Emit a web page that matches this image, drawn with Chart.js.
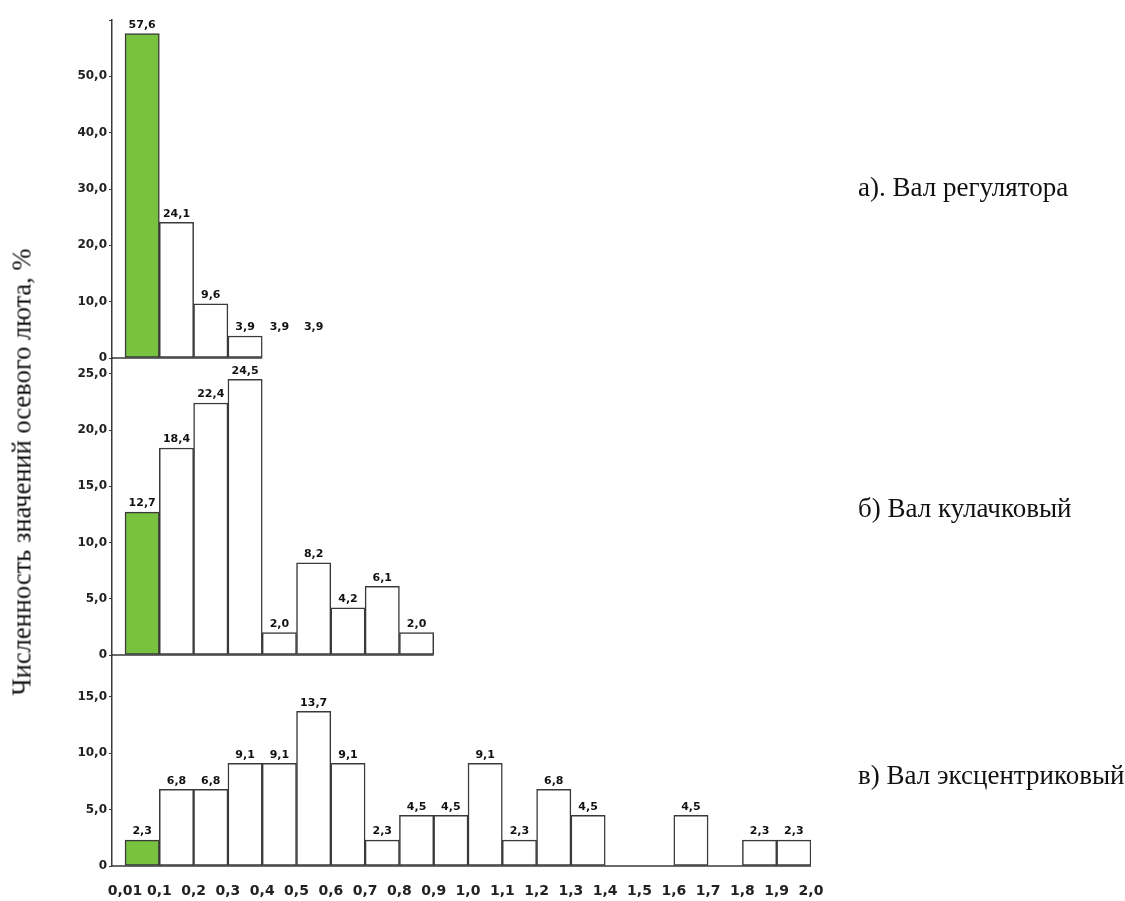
<!DOCTYPE html>
<html lang="ru">
<head>
<meta charset="utf-8">
<title>Осевой люфт валов</title>
<script src="https://cdn.jsdelivr.net/npm/chart.js@4.4.1/dist/chart.umd.min.js"></script>
<style>
  html, body { margin: 0; padding: 0; background: #fff; }
  #wrap { position: relative; width: 1125px; height: 901px; overflow: hidden; }
  #chart { position: absolute; left: 0; top: 0; }
  .ytitle {
    position: absolute; left: 22px; top: 472px;
    transform: translate(-50%, -50%) rotate(-90deg);
    font: 26.5px "Liberation Serif", "Times New Roman", serif;
    white-space: nowrap; color: #111;
  }
  .panel-name {
    position: absolute; left: 858px;
    font: 27px/27px "Liberation Serif", "Times New Roman", serif;
    white-space: nowrap; color: #111;
  }
</style>
</head>
<body>
<div id="wrap">
  <canvas id="chart" width="1125" height="901"></canvas>
  <div class="ytitle">Численность значений осевого люта, %</div>
  <div class="panel-name" id="name-a" style="top:174px"></div>
  <div class="panel-name" id="name-b" style="top:495px"></div>
  <div class="panel-name" id="name-c" style="top:762px"></div>
</div>
<script>
// bin edges, mm
const binEdges = ['0,01', '0,1', '0,2', '0,3', '0,4', '0,5', '0,6', '0,7', '0,8', '0,9', '1,0',
                  '1,1', '1,2', '1,3', '1,4', '1,5', '1,6', '1,7', '1,8', '1,9', '2,0'];

const panelNames = ['а). Вал регулятора', 'б) Вал кулачковый', 'в) Вал эксцентриковый'];

// share of values per bin, %
const regulatorShaft = [57.6, 24.1, 9.6, 3.9, 3.9, 3.9];
const labelOnlyBins = [4, 5]; // the source prints these two values without a bar
const camShaft = [12.7, 18.4, 22.4, 24.5, 2.0, 8.2, 4.2, 6.1, 2.0];
const eccentricShaft = [2.3, 6.8, 6.8, 9.1, 9.1, 13.7, 9.1, 2.3, 4.5, 4.5,
                        9.1, 2.3, 6.8, 4.5, null, null, 4.5, null, 2.3, 2.3];

const ticksA = [0, 10, 20, 30, 40, 50, 60];
const ticksB = [0, 5, 10, 15, 20, 25];
const ticksC = [0, 5, 10, 15];

const GREEN = '#78c23f';
const EDGE = '#3a3a3a';

document.getElementById('name-a').textContent = panelNames[0];
document.getElementById('name-b').textContent = panelNames[1];
document.getElementById('name-c').textContent = panelNames[2];

const toPoints = arr => arr.map((v, i) => ({ x: i + 0.5, y: v }));
const fmt = v => v === 0 ? '0' : v.toFixed(1).replace('.', ',');

function barDataset(name, values, axisId, hidden) {
  hidden = hidden || [];
  return {
    label: name,
    data: toPoints(values),
    yAxisID: axisId,
    hiddenBars: hidden,
    grouped: false,
    barPercentage: 1,
    categoryPercentage: 1,
    borderWidth: 1.5,
    borderSkipped: false,
    backgroundColor: c => hidden.includes(c.dataIndex) ? 'rgba(0,0,0,0)' : (c.dataIndex === 0 ? GREEN : '#fff'),
    borderColor: c => hidden.includes(c.dataIndex) ? 'rgba(0,0,0,0)' : EDGE
  };
}

function panelAxis(max, ticks, weight) {
  return {
    type: 'linear',
    position: 'left',
    stack: 'panels',
    stackWeight: weight,
    min: 0,
    max: max,
    afterBuildTicks: ax => { ax.ticks = ticks.map(v => ({ value: v })); },
    afterFit: ax => { ax.width = 112; },
    border: { color: EDGE, width: 1.5 },
    grid: { drawOnChartArea: false, tickLength: 3, color: EDGE },
    ticks: {
      padding: 2,
      color: '#222',
      font: { family: 'DejaVu Sans', size: 12, weight: 'bold' },
      callback: v => v === max ? '' : fmt(v)
    }
  };
}

// value labels and per-panel baselines
const barExtras = {
  id: 'barExtras',
  afterDatasetsDraw(chart) {
    const { ctx } = chart;
    const xs = chart.scales.x;
    ctx.save();
    chart.data.datasets.forEach((ds, di) => {
      const ys = chart.scales[ds.yAxisID];
      const y0 = ys.getPixelForValue(0);
      let last = 0;
      ds.data.forEach((p, i) => {
        if (p.y != null && !ds.hiddenBars.includes(i)) last = i;
      });
      ctx.strokeStyle = EDGE;
      ctx.lineWidth = 1.5;
      ctx.beginPath();
      ctx.moveTo(chart.chartArea.left, y0);
      ctx.lineTo(xs.getPixelForValue(last + 1), y0);
      ctx.stroke();

      ctx.font = 'bold 11px "DejaVu Sans"';
      ctx.fillStyle = '#111';
      ctx.textAlign = 'center';
      ctx.textBaseline = 'bottom';
      chart.getDatasetMeta(di).data.forEach((bar, i) => {
        const v = ds.data[i].y;
        if (v == null) return;
        ctx.fillText(fmt(v), bar.x, bar.y - 3);
      });
    });
    ctx.restore();
  }
};

new Chart(document.getElementById('chart'), {
  type: 'bar',
  data: {
    datasets: [
      barDataset(panelNames[2], eccentricShaft, 'yC'),
      barDataset(panelNames[1], camShaft, 'yB'),
      barDataset(panelNames[0], regulatorShaft, 'yA', labelOnlyBins)
    ]
  },
  options: {
    responsive: false,
    animation: false,
    layout: { padding: { top: 20, right: 314, bottom: 0, left: 0 } },
    plugins: { legend: { display: false }, tooltip: { enabled: false } },
    scales: {
      x: {
        type: 'linear',
        offset: false,
        min: -0.38,
        max: 20,
        afterBuildTicks: ax => { ax.ticks = binEdges.map((_, i) => ({ value: i })); },
        afterFit: ax => { ax.height = 35; },
        border: { display: false },
        grid: { display: false, drawTicks: false },
        ticks: {
          autoSkip: false,
          maxRotation: 0,
          padding: 17,
          color: '#222',
          font: { family: 'DejaVu Sans', size: 14, weight: 'bold' },
          callback: (v, i) => binEdges[i]
        }
      },
      yC: panelAxis(18.7, ticksC, 211),
      yB: panelAxis(26.4, ticksB, 297),
      yA: panelAxis(60, ticksA, 338)
    }
  },
  plugins: [barExtras]
});
</script>
</body>
</html>
